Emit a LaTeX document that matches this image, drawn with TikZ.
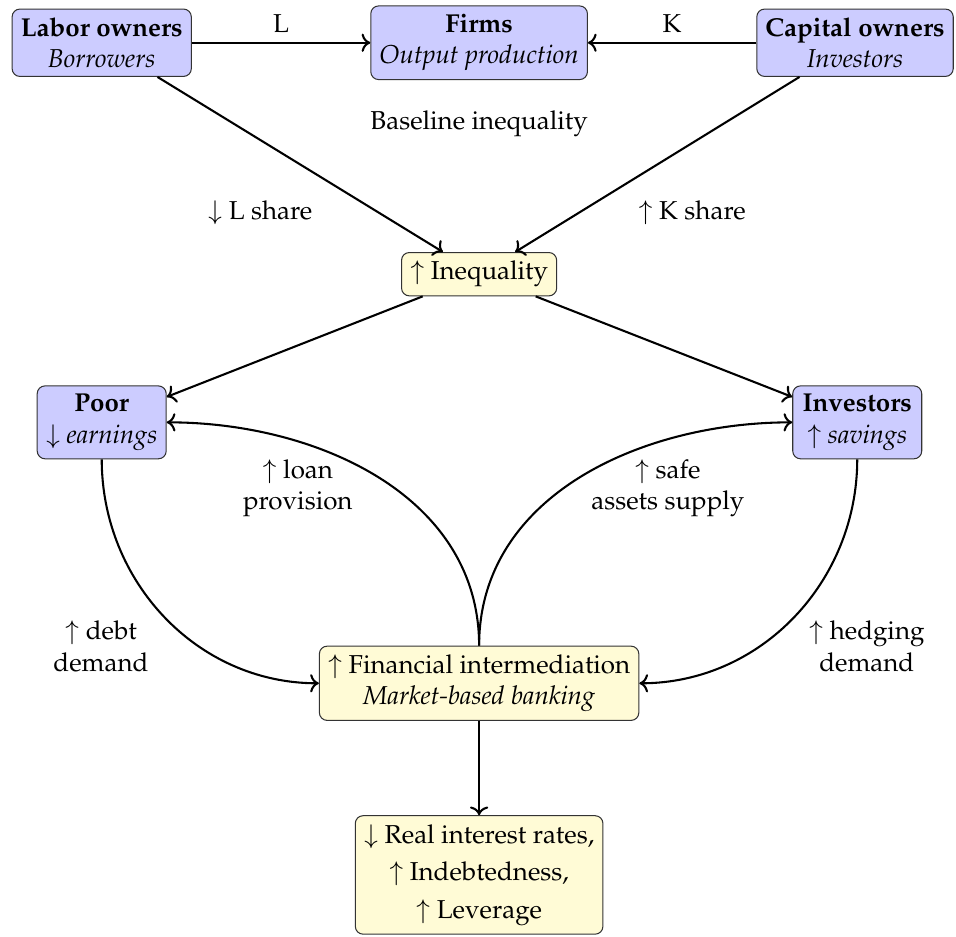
\documentclass[tikz,border=0pt]{standalone}
\usepackage[T1]{fontenc}
\usepackage{mathpazo}
\usetikzlibrary{positioning, arrows.meta}
\definecolor{agentblue}{HTML}{CCCCFF}
\definecolor{effectyellow}{HTML}{FFFBD6}
\tikzset{
  B/.style={draw=black!80, fill=agentblue, rounded corners=3pt, align=center},
  Y/.style={draw=black!80, fill=effectyellow, rounded corners=3pt, align=center},
  a/.style={->, thick},
  l/.style={align=center},
}

\begin{document}
\begin{tikzpicture}
\useasboundingbox (0,0) rectangle (12.97,-12.71);

% ═══════════════════════════════════════════════════════════════
% TOP ROW — factor owners and firms
% ═══════════════════════════════════════════════════════════════
\node[B] at (1.38,-0.58) (labor) {\textbf{Labor owners}\\\textit{Borrowers}};
\node[B] at (6.50,-0.58) (firms) {\textbf{Firms}\\\textit{Output production}};
\node[B] at (11.60,-0.58) (capital) {\textbf{Capital owners}\\\textit{Investors}};
\draw[a] (labor) -- node[above] {L} (firms);
\draw[a] (capital) -- node[above] {K} (firms);

\node[l] at (6.50,-1.68) (base) {Baseline inequality};

% Inequality
\node[Y] at (6.50,-3.72) (ineq) {$\uparrow$ Inequality};
\draw[a] (labor) -- (ineq);
\draw[a] (capital) -- (ineq);
\node[l] at (3.53,-2.88) (lshare) {$\downarrow$ L share};
\node[l] at (9.39,-2.88) (kshare) {$\uparrow$ K share};

% ═══════════════════════════════════════════════════════════════
% MIDDLE — poor and investors
% ═══════════════════════════════════════════════════════════════
\node[B, minimum width=1.75cm] at (1.38,-5.73) (poor) {\textbf{Poor}\\$\downarrow$ \textit{earnings}};
\node[B, minimum width=1.75cm] at (11.63,-5.73) (inv) {\textbf{Investors}\\$\uparrow$ \textit{savings}};
\draw[a] (ineq) -- (poor);
\draw[a] (ineq) -- (inv);

% Financial intermediation
\node[Y] at (6.50,-9.27) (fin) {$\uparrow$ Financial intermediation\\\textit{Market-based banking}};
\draw[a] (poor.south) to[out=-90, in=180] (fin.west);
\draw[a] (inv.south) to[out=-90, in=0] (fin.east);
\draw[a] (fin.north) to[out=90, in=0] (poor.east);
\draw[a] (fin.north) to[out=90, in=180] (inv.west);

\node[l] at (4.04,-6.62) (loan) {$\uparrow$ loan\\provision};
\node[l] at (9.06,-6.62) (safe) {$\uparrow$ safe\\assets supply};
\node[l] at (1.37,-8.77) (debt) {$\uparrow$ debt\\demand};
\node[l] at (11.76,-8.77) (hedge) {$\uparrow$ hedging\\demand};

% ═══════════════════════════════════════════════════════════════
% BOTTOM — outcomes
% ═══════════════════════════════════════════════════════════════
\node[Y] at (6.50,-11.87) (out)
  {$\downarrow$ Real interest rates,\\[2.5pt]$\uparrow$ Indebtedness,\\[2.5pt]$\uparrow$ Leverage};
\draw[a] (fin) -- (out);

\end{tikzpicture}
\end{document}
